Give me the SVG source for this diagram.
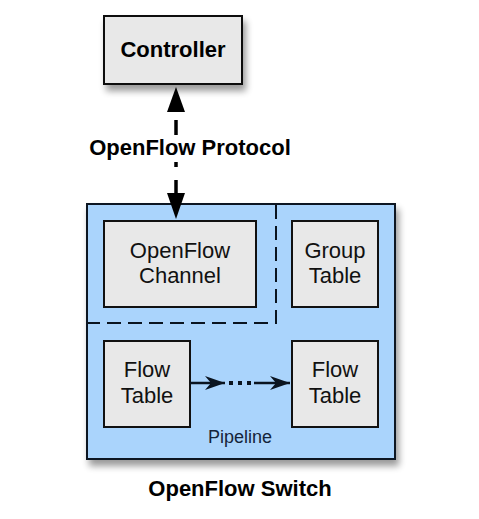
<svg xmlns="http://www.w3.org/2000/svg" width="479" height="519" viewBox="0 0 479 519">
<defs>
<filter id="sh" x="-20%" y="-20%" width="150%" height="150%">
<feGaussianBlur in="SourceAlpha" stdDeviation="3.5"/>
<feOffset dx="3" dy="6" result="b"/>
<feComponentTransfer><feFuncA type="linear" slope="0.4"/></feComponentTransfer>
<feMerge><feMergeNode/><feMergeNode in="SourceGraphic"/></feMerge>
</filter>
<marker id="stealth" viewBox="0 0 20 14" refX="20" refY="7" markerWidth="20" markerHeight="14" markerUnits="userSpaceOnUse" orient="auto">
<path d="M0,0 L20,7 L0,14 L6,7 z" fill="#0a1420"/>
</marker>
<style>
.box{fill:#e8e8e8;stroke:#111;stroke-width:2}
.sw{fill:#aad4fc;stroke:#0a1420;stroke-width:2}
.t{font-family:"Liberation Sans",Arial,sans-serif;font-size:22px;fill:#111;text-anchor:middle}
.b{font-family:"Liberation Sans",Arial,sans-serif;font-weight:bold;font-size:22px;text-anchor:middle;fill:#000}
.dash{fill:none;stroke:#0a1420;stroke-width:2;stroke-dasharray:14,7}
.ln{stroke:#000;stroke-width:3.5}
</style>
</defs>

<g id="controller">
<rect class="box" x="104" y="16" width="138" height="68" filter="url(#sh)"/>
<text class="b" x="173" y="57">Controller</text>
</g>

<g id="switch">
<rect class="sw" x="87" y="204" width="308" height="255" filter="url(#sh)"/>
<path class="dash" d="M276,205 V323 H88"/>
<text x="240" y="443" font-family="Liberation Sans,Arial,sans-serif" font-size="18" fill="#15243a" text-anchor="middle">Pipeline</text>
<text class="b" x="240" y="496">OpenFlow Switch</text>
</g>

<g id="channel">
<rect class="box" x="104" y="221" width="152" height="86"/>
<text class="t" x="180" y="258">OpenFlow</text>
<text class="t" x="180" y="283">Channel</text>
</g>

<g id="group">
<rect class="box" x="292" y="221" width="86" height="86"/>
<text class="t" x="335" y="258">Group</text>
<text class="t" x="335" y="283">Table</text>
</g>

<g id="flow1">
<rect class="box" x="104" y="341" width="86" height="86"/>
<text class="t" x="147" y="377">Flow</text>
<text class="t" x="147" y="403">Table</text>
</g>

<g id="flow2">
<rect class="box" x="292" y="341" width="86" height="86"/>
<text class="t" x="335" y="377">Flow</text>
<text class="t" x="335" y="403">Table</text>
</g>

<g id="connectors">
<path d="M176,87 L185,112 L167,112 z" fill="#000"/>
<line class="ln" x1="176" y1="120" x2="176" y2="135"/>
<line class="ln" x1="176" y1="162" x2="176" y2="167"/>
<line class="ln" x1="176" y1="180" x2="176" y2="195"/>
<path d="M176,219 L185,193 L167,193 z" fill="#000"/>
<text class="b" x="190" y="155">OpenFlow Protocol</text>
<line x1="190" y1="383" x2="225" y2="383" stroke="#0a1420" stroke-width="2.5" marker-end="url(#stealth)"/>
<line x1="229" y1="383" x2="252" y2="383" stroke="#0a1420" stroke-width="4" stroke-dasharray="4,5"/>
<line x1="254" y1="383" x2="290" y2="383" stroke="#0a1420" stroke-width="2.5" marker-end="url(#stealth)"/>
</g>
</svg>
